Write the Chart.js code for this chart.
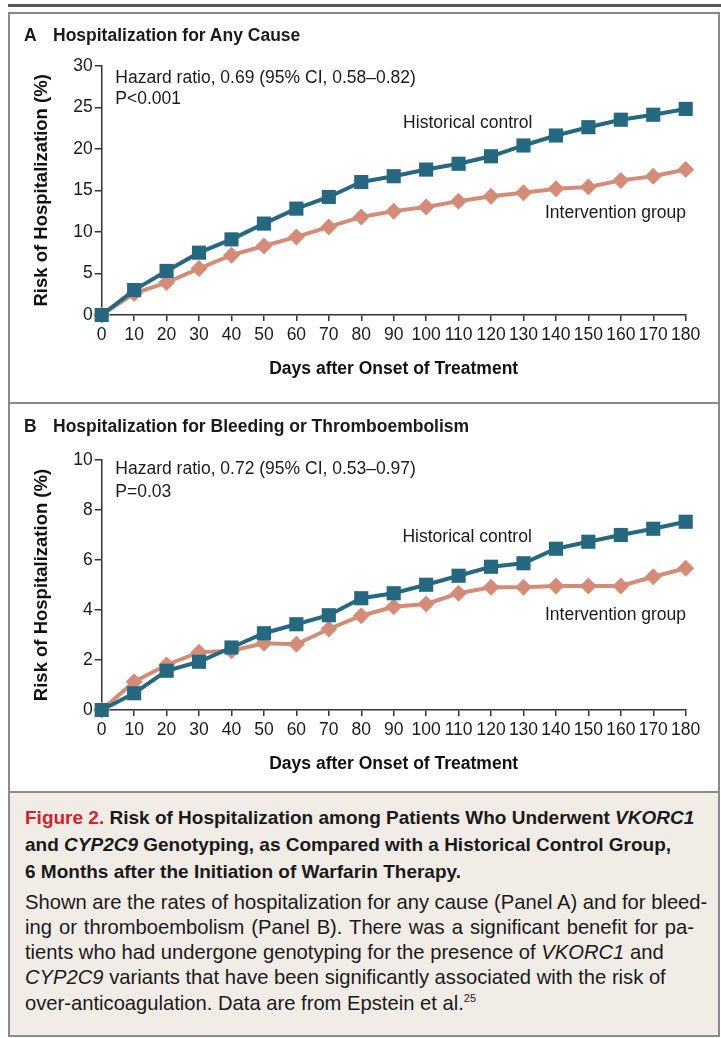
<!DOCTYPE html>
<html>
<head>
<meta charset="utf-8">
<script src="https://cdn.jsdelivr.net/npm/chart.js@4.4.1/dist/chart.umd.min.js"></script>
<style>
  body { margin: 0; width: 721px; height: 1038px; background: #fff; position: relative; overflow: hidden;
         font-family: "Liberation Sans", Arial, sans-serif; color: #1a1a1a; }
  .rule { position: absolute; left: 8px; top: 4px; width: 713px; height: 3px; background: #575757; }
  .frame { position: absolute; left: 8px; top: 12px; width: 712px; height: 1025px; border: 2px solid #8a8a8a; box-sizing: border-box; }
  .divider { position: absolute; left: 8px; width: 712px; height: 2px; background: #8a8a8a; }
  .capbg { position: absolute; left: 10px; top: 793px; width: 708px; height: 242px; background: #f2ece7; }
  canvas { position: absolute; left: 10px; }
  .ptitle { position: absolute; left: 24px; font-weight: bold; font-size: 17.5px; line-height: 17.5px; white-space: nowrap; }
  .ptitle b { display: inline-block; width: 29px; }
  .cap { position: absolute; left: 25px; top: 804px; width: 669px; }
  .ct { font-weight: bold; font-size: 19px; line-height: 27px; white-space: nowrap; }
  .cb { font-size: 20.2px; line-height: 25.3px; white-space: nowrap; }
  .cb.first { margin-top: 4.6px; }
  .j { text-align: justify; text-align-last: justify; }
  .red { color: #d0232e; }
  sup { font-size: 11px; line-height: 0; }
</style>
</head>
<body>
<div class="rule"></div>
<div class="frame"></div>
<div class="divider" style="top:402px"></div>
<div class="capbg"></div>
<div class="divider" style="top:791px"></div>

<canvas id="chartA" width="706" height="388" style="top:14px"></canvas>
<canvas id="chartB" width="706" height="384" style="top:406px"></canvas>

<div class="ptitle" style="top:27px"><b>A</b>Hospitalization for Any Cause</div>
<div class="ptitle" style="top:417.5px"><b>B</b>Hospitalization for Bleeding or Thromboembolism</div>

<div class="cap">
  <div class="ct j"><span class="red">Figure 2.</span> Risk of Hospitalization among Patients Who Underwent <i>VKORC1</i></div>
  <div class="ct">and <i>CYP2C9</i> Genotyping, as Compared with a Historical Control Group,</div>
  <div class="ct">6 Months after the Initiation of Warfarin Therapy.</div>
  <div class="cb j first">Shown are the rates of hospitalization for any cause (Panel A) and for bleed-</div>
  <div class="cb j">ing or thromboembolism (Panel B). There was a significant benefit for pa-</div>
  <div class="cb">tients who had undergone genotyping for the presence of <i>VKORC1</i> and</div>
  <div class="cb"><i>CYP2C9</i> variants that have been significantly associated with the risk of</div>
  <div class="cb">over-anticoagulation. Data are from Epstein et al.<sup>25</sup></div>
</div>

<script>
// days after onset (x axis ticks too)
const days = [0, 10, 20, 30, 40, 50, 60, 70, 80, 90, 100, 110, 120, 130, 140, 150, 160, 170, 180];

// panel A: any cause (%)
const anyHistorical   = [0, 3.0, 5.3, 7.5, 9.1, 11.0, 12.8, 14.2, 16.0, 16.7, 17.5, 18.2, 19.1, 20.4, 21.6, 22.6, 23.5, 24.1, 24.8];
const anyIntervention = [0, 2.6, 3.9, 5.6, 7.2, 8.3, 9.4, 10.6, 11.8, 12.5, 13.0, 13.7, 14.3, 14.7, 15.2, 15.4, 16.2, 16.7, 17.5];
const anyTicks = [0, 5, 10, 15, 20, 25, 30];

// panel B: bleeding or thromboembolism (%)
const bleedHistorical   = [0, 0.67, 1.57, 1.93, 2.5, 3.07, 3.43, 3.79, 4.47, 4.67, 5.01, 5.37, 5.73, 5.87, 6.45, 6.73, 7.0, 7.25, 7.53];
const bleedIntervention = [0, 1.13, 1.8, 2.31, 2.37, 2.67, 2.63, 3.24, 3.77, 4.13, 4.24, 4.67, 4.91, 4.91, 4.96, 4.96, 4.96, 5.33, 5.67];
const bleedTicks = [0, 2, 4, 6, 8, 10];

const BLUE = '#266880';
const SALMON = '#d48c78';
const FONT = '"Liberation Sans", Arial, sans-serif';
const AXIS = '#333';

// text notes drawn at data positions
const notePlugin = {
  id: 'notes',
  afterDatasetsDraw(chart, args, opts) {
    const { ctx } = chart;
    const x = chart.scales.x, y = chart.scales.y;
    ctx.save();
    ctx.fillStyle = '#1a1a1a';
    ctx.font = '17.5px ' + FONT;
    ctx.textBaseline = 'alphabetic';
    opts.items.forEach(n => {
      ctx.textAlign = n.align || 'left';
      ctx.fillText(n.text, x.getPixelForValue(n.x), y.getPixelForValue(n.y));
    });
    ctx.restore();
  }
};

function makeChart(id, canvasTop, canvasH, areaTop, areaBottom, hist, inter, yTicks, notes, xTitlePad) {
  const pts = arr => days.map((d, i) => ({ x: d, y: arr[i] }));
  return new Chart(document.getElementById(id), {
    type: 'line',
    data: {
      datasets: [
        { label: 'Historical control', data: pts(hist), borderColor: BLUE, backgroundColor: BLUE,
          borderWidth: 4, pointStyle: 'rect', pointRadius: 10, pointHoverRadius: 10, pointBorderWidth: 0,
          tension: 0, clip: false },
        { label: 'Intervention group', data: pts(inter), borderColor: SALMON, backgroundColor: SALMON,
          borderWidth: 4, pointStyle: 'rectRot', pointRadius: 8.5, pointHoverRadius: 8.5, pointBorderWidth: 0,
          tension: 0, clip: false }
      ]
    },
    options: {
      responsive: false,
      animation: false,
      devicePixelRatio: 1,
      layout: { padding: { top: areaTop - canvasTop, right: 30.3, left: 0, bottom: 0 } },
      plugins: { legend: { display: false }, tooltip: { enabled: false }, notes: { items: notes } },
      scales: {
        x: {
          type: 'linear', min: 0, max: 180,
          afterBuildTicks: s => { s.ticks = days.map(v => ({ value: v })); },
          afterFit: s => { s.height = canvasTop + canvasH - areaBottom; },
          grid: { drawOnChartArea: false, drawTicks: true, tickLength: 6, color: AXIS, lineWidth: 1.5 },
          border: { color: AXIS, width: 1.5 },
          ticks: { color: '#1a1a1a', font: { family: FONT, size: 17.5 }, padding: 4, maxRotation: 0, autoSkip: false },
          title: { display: true, text: 'Days after Onset of Treatment', color: '#111',
                   font: { family: FONT, size: 17.5, weight: 'bold' }, padding: { top: 0, bottom: xTitlePad } }
        },
        y: {
          min: 0, max: yTicks[yTicks.length - 1],
          afterBuildTicks: s => { s.ticks = yTicks.map(v => ({ value: v })); },
          afterFit: s => { s.width = 91.7; },
          grid: { drawOnChartArea: false, drawTicks: true, tickLength: 7, color: AXIS, lineWidth: 1.5 },
          border: { color: AXIS, width: 1.5 },
          ticks: { color: '#1a1a1a', font: { family: FONT, size: 17.5 }, padding: 2 },
          title: { display: true, text: 'Risk of Hospitalization (%)', color: '#111',
                   font: { family: FONT, size: 18.5, weight: 'bold' }, padding: { top: 21, bottom: 0 } }
        }
      }
    },
    plugins: [notePlugin]
  });
}

makeChart('chartA', 14, 388, 65.7, 315, anyHistorical, anyIntervention, anyTicks, [
  { text: 'Hazard ratio, 0.69 (95% CI, 0.58\u20130.82)', x: 4.2, y: 27.9 },
  { text: 'P<0.001', x: 4.2, y: 25.4 },
  { text: 'Historical control', x: 92.9, y: 22.5 },
  { text: 'Intervention group', x: 180.1, y: 11.7, align: 'right' }
], 22.5);

makeChart('chartB', 406, 384, 460, 710, bleedHistorical, bleedIntervention, bleedTicks, [
  { text: 'Hazard ratio, 0.72 (95% CI, 0.53\u20130.97)', x: 4.2, y: 9.44 },
  { text: 'P=0.03', x: 4.2, y: 8.53 },
  { text: 'Historical control', x: 92.7, y: 6.73 },
  { text: 'Intervention group', x: 180.1, y: 3.6, align: 'right' }
], 15.5);
</script>
</body>
</html>
